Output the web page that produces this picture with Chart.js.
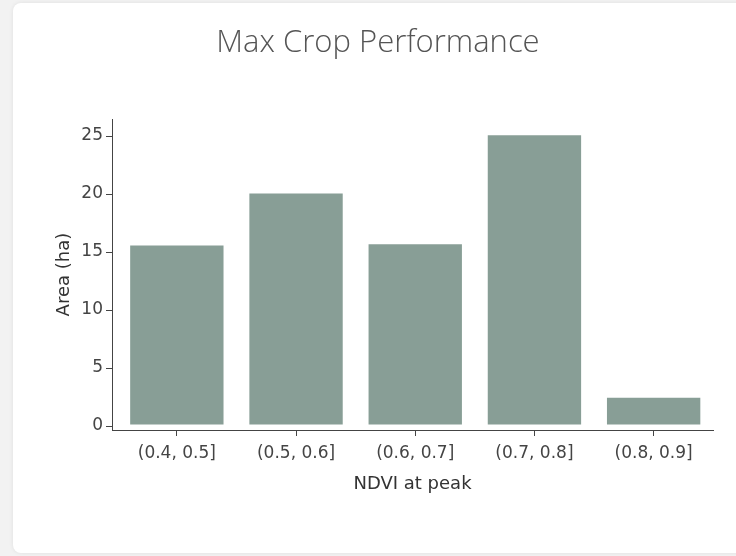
<!DOCTYPE html>
<html>
<head>
<meta charset="utf-8">
<script src="https://cdn.jsdelivr.net/npm/chart.js@4.4.0/dist/chart.umd.min.js"></script>
<style>
    html, body { margin: 0; padding: 0; background: #f2f2f2; width: 736px; height: 556px; overflow: hidden; }
    .card {
        position: absolute; left: 13px; top: 3px; width: 760px; height: 550px;
        background: #fff; border-radius: 8px;
        box-shadow: 0 0 4px rgba(0, 0, 0, 0.08);
    }
    .chart-box { position: absolute; left: 29px; top: 0; width: 707px; height: 556px; }
</style>
</head>
<body>
<div class="card"></div>
<div class="chart-box"><canvas id="crop-chart"></canvas></div>
<script>
// data
const categories = ['(0.4, 0.5]', '(0.5, 0.6]', '(0.6, 0.7]', '(0.7, 0.8]', '(0.8, 0.9]'];
const areaValues = [15.65, 20.13, 15.76, 25.15, 2.52];
const yTicks = [0, 5, 10, 15, 20, 25];

window.onload = function displayChart() {
    const ctx = document.getElementById('crop-chart');
    const axisColor = '#444';
    const tickFont = { family: 'DejaVu Sans', size: 17 };
    const titleFont = { family: 'DejaVu Sans', size: 18 };

    const data = {
        datasets: [{
            label: 'Area (ha)',
            data: categories.map((c, i) => ({ x: i, y: areaValues[i] })),
            backgroundColor: '#889e96',
            borderColor: 'rgba(255, 255, 255, 0.55)',
            borderWidth: 1,
            borderSkipped: false,
            barPercentage: 0.8,
            categoryPercentage: 1
        }]
    };

    const config = {
        type: 'bar',
        data: data,
        options: {
            responsive: false,
            animation: false,
            layout: { padding: { left: 14, right: 23, top: 0, bottom: 0 } },
            plugins: {
                legend: { display: false },
                tooltip: { enabled: false },
                title: {
                    display: true,
                    text: 'Max Crop Performance',
                    color: '#555',
                    font: { family: 'Open Sans', size: 31, weight: '300' },
                    padding: { top: 25, bottom: 57 }
                }
            },
            scales: {
                x: {
                    type: 'linear',
                    offset: false,
                    min: -0.544,
                    max: 4.498,
                    afterFit: function(scale) { scale.height = 126; },
                    afterBuildTicks: function(scale) {
                        scale.ticks = categories.map((c, i) => ({ value: i }));
                    },
                    ticks: {
                        color: axisColor,
                        font: tickFont,
                        padding: 7,
                        maxRotation: 0,
                        autoSkip: false,
                        callback: function(value) { return categories[value]; }
                    },
                    grid: { display: true, offset: false, drawOnChartArea: false, drawTicks: true, tickLength: 6, color: axisColor },
                    border: { display: true, color: axisColor, width: 1 },
                    title: {
                        display: true,
                        text: 'NDVI at peak',
                        color: '#333',
                        font: titleFont,
                        padding: { top: 0, bottom: 61 }
                    }
                },
                y: {
                    min: -0.34,
                    max: 26.45,
                    afterFit: function(scale) { scale.width = 69; },
                    afterBuildTicks: function(scale) {
                        scale.ticks = yTicks.map(v => ({ value: v }));
                    },
                    ticks: { color: axisColor, font: tickFont, padding: 3 },
                    grid: { display: true, drawOnChartArea: false, drawTicks: true, tickLength: 6, color: axisColor },
                    border: { display: true, color: axisColor, width: 1 },
                    title: {
                        display: true,
                        text: 'Area (ha)',
                        color: '#333',
                        font: titleFont,
                        padding: { top: 11, bottom: 0 }
                    }
                }
            }
        }
    };

    ctx.width = 707;
    ctx.height = 556;
    const myChart = new Chart(ctx, config);
};
</script>
</body>
</html>
